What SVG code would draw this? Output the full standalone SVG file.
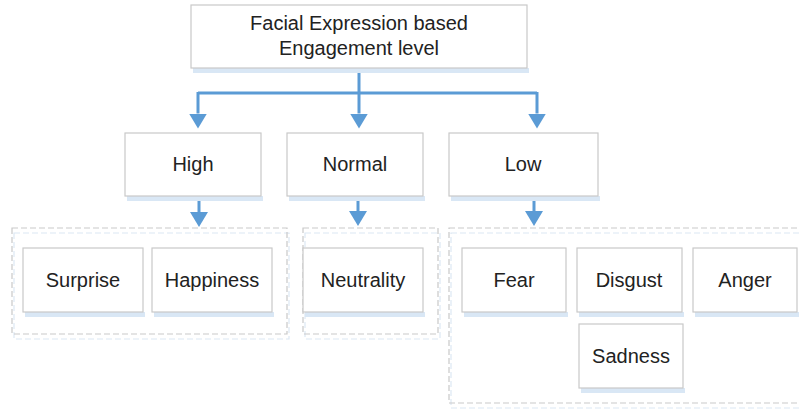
<svg xmlns="http://www.w3.org/2000/svg" width="799" height="409" viewBox="0 0 799 409">
<defs>
<style>
.box{fill:#fff;stroke:#c9c9c9;stroke-width:1.2}
.sh{fill:#d9e7f5}
.grp{fill:none;stroke:#c9c9c9;stroke-width:1.2;stroke-dasharray:6 3}
.grp2{fill:none;stroke:#dce8f3;stroke-width:1.2;stroke-dasharray:6 3}
.t{font-family:"Liberation Sans",Arial,sans-serif;font-size:20px;fill:#222;text-anchor:middle}
.c{fill:none;stroke:#5b9bd5;stroke-width:3}
</style>
<marker id="ah" viewBox="0 0 15 18" refX="0" refY="9" markerWidth="15" markerHeight="18" markerUnits="userSpaceOnUse" orient="auto">
<path d="M0,0 L15,9 L0,18 Z" fill="#5b9bd5"/>
</marker>
</defs>
<rect width="799" height="409" fill="#fff"/>
<g id="groups">
<rect class="grp2" x="14" y="233" width="275" height="106"/>
<rect class="grp" x="12" y="228" width="275" height="106"/>
<rect class="grp2" x="305" y="233" width="135" height="106"/>
<rect class="grp" x="303" y="228" width="135" height="106"/>
<rect class="grp2" x="451" y="233" width="352" height="175"/>
<rect class="grp" x="449" y="228" width="352" height="175"/>
</g>
<g id="connectors">
<path class="c" d="M359,68 V93"/>
<path class="c" d="M198,93 H537"/>
<path class="c" d="M198,92 V113.5" marker-end="url(#ah)"/>
<path class="c" d="M359,93 V113.5" marker-end="url(#ah)"/>
<path class="c" d="M537,92 V113.5" marker-end="url(#ah)"/>
<path class="c" d="M199,197 V212" marker-end="url(#ah)"/>
<path class="c" d="M358,194 V211" marker-end="url(#ah)"/>
<path class="c" d="M534,197 V211" marker-end="url(#ah)"/>
</g>
<g id="root">
<rect class="sh" x="193" y="68" width="336" height="5"/>
<rect class="box" x="191" y="5" width="336" height="63"/>
<text class="t" x="359" y="30">Facial Expression based</text>
<text class="t" x="359" y="55">Engagement level</text>
</g>
<g id="high">
<rect class="sh" x="127" y="196" width="136" height="5"/>
<rect class="box" x="125" y="133" width="136" height="63"/>
<text class="t" x="193" y="171">High</text>
</g>
<g id="normal">
<rect class="sh" x="289" y="196" width="136" height="5"/>
<rect class="box" x="287" y="133" width="136" height="63"/>
<text class="t" x="355" y="171">Normal</text>
</g>
<g id="low">
<rect class="sh" x="451" y="196" width="149" height="5"/>
<rect class="box" x="449" y="133" width="149" height="63"/>
<text class="t" x="523" y="171">Low</text>
</g>
<g id="surprise">
<rect class="sh" x="25" y="312" width="120" height="5"/>
<rect class="box" x="23" y="248" width="120" height="64"/>
<text class="t" x="83" y="287">Surprise</text>
</g>
<g id="happiness">
<rect class="sh" x="154" y="312" width="120" height="5"/>
<rect class="box" x="152" y="248" width="120" height="64"/>
<text class="t" x="212" y="287">Happiness</text>
</g>
<g id="neutrality">
<rect class="sh" x="305" y="312" width="120" height="5"/>
<rect class="box" x="303" y="248" width="120" height="64"/>
<text class="t" x="363" y="287">Neutrality</text>
</g>
<g id="fear">
<rect class="sh" x="464" y="312" width="104" height="5"/>
<rect class="box" x="462" y="248" width="104" height="64"/>
<text class="t" x="514" y="287">Fear</text>
</g>
<g id="disgust">
<rect class="sh" x="579" y="312" width="105" height="5"/>
<rect class="box" x="577" y="248" width="105" height="64"/>
<text class="t" x="629" y="287">Disgust</text>
</g>
<g id="anger">
<rect class="sh" x="695" y="312" width="104" height="5"/>
<rect class="box" x="693" y="248" width="104" height="64"/>
<text class="t" x="745" y="287">Anger</text>
</g>
<g id="sadness">
<rect class="sh" x="581" y="388" width="104" height="5"/>
<rect class="box" x="579" y="324" width="104" height="64"/>
<text class="t" x="631" y="363">Sadness</text>
</g>
</svg>
